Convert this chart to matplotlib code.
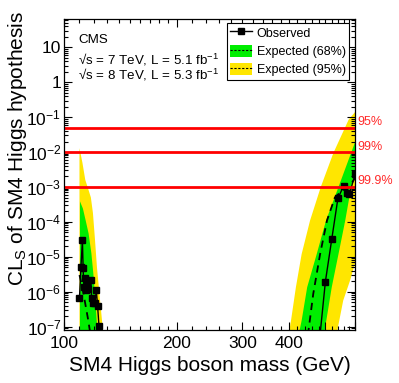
import numpy as np
import matplotlib
matplotlib.use('Agg')
from matplotlib import pyplot
from matplotlib.lines import Line2D
from matplotlib.patches import Patch
from matplotlib.ticker import FixedLocator, FuncFormatter, NullFormatter

pyplot.rcParams['font.family'] = ['Liberation Sans', 'DejaVu Sans']
pyplot.rcParams['mathtext.fontset'] = 'custom'
pyplot.rcParams['mathtext.rm'] = 'Liberation Sans'
pyplot.rcParams['mathtext.it'] = 'Liberation Sans:italic'
pyplot.rcParams['mathtext.bf'] = 'Liberation Sans:bold'

# low mass region (110 - 130 GeV)
lm_mass = [110, 112, 114, 116, 118, 119.5, 121, 122.5, 125, 127.5, 130]
lm_yellow_hi = [1.3e-2, 5e-3, 1.6e-3, 9e-4, 5e-4, 1.8e-4, 3.2e-5, 5e-6, 5e-7, 5.6e-8, 6e-9]
lm_green_hi = [4e-4, 2.5e-4, 1.1e-4, 4.8e-5, 1.3e-5, 3.2e-6, 5.6e-7, 7e-8, 3e-9, 3e-10, 3e-11]
lm_green_lo = [1e-9, 5e-10, 2e-10, 1e-10, 5e-11, 3e-11, 2e-11, 1e-11, 5e-12, 2e-12, 1e-12]
lm_yellow_lo = [1e-10, 5e-11, 2e-11, 1e-11, 5e-12, 3e-12, 2e-12, 1e-12, 5e-13, 2e-13, 1e-13]

lm_exp_mass = [110, 112, 114, 116, 118, 120, 122]
lm_exp = [3e-6, 1.3e-6, 4.5e-7, 1.6e-7, 5e-8, 1.3e-8, 3e-9]

lm_obs_mass = [110, 111, 112, 112.5, 113, 114, 114.5, 115, 116, 118, 118.5, 119.5, 121, 122, 123, 124]
lm_obs = [6.8e-7, 5.1e-6, 3e-5, 4.7e-6, 1.4e-6, 2.4e-6, 1.1e-6, 1.7e-6, 1.2e-6, 2.2e-6,
          6.8e-7, 4.9e-7, 4.6e-7, 1.15e-6, 3.8e-7, 1.07e-7]

# high mass region (400 - 600 GeV)
hm_yellow_hi_mass = [395, 400, 405, 417, 432, 455, 486, 525, 577, 600]
hm_yellow_hi = [2.5e-8, 6.9e-8, 1.6e-7, 1.35e-6, 1.2e-5, 1.1e-4, 1.0e-3, 9.3e-3, 8.5e-2, 0.14]
hm_yellow_lo_mass = [600, 582, 558, 537, 525]
hm_yellow_lo = [6.3e-6, 2.1e-6, 5.6e-7, 6.9e-8, 1.6e-8]

hm_green_hi_mass = [420, 425.5, 432, 447, 474, 502, 542, 600]
hm_green_hi = [2.5e-8, 6.9e-8, 1.5e-7, 1.35e-6, 1.2e-5, 1.1e-4, 1.0e-3, 1.9e-2]
hm_green_lo_mass = [600, 586, 565, 542, 520, 497, 490]
hm_green_lo = [3.1e-3, 1.0e-3, 1.1e-4, 1.2e-5, 1.35e-6, 6.9e-8, 2.5e-8]

hm_exp_mass = [445, 450, 464, 484, 505, 530, 555, 575, 600]
hm_exp = [2.5e-8, 6.9e-8, 8.7e-7, 1.2e-5, 1.1e-4, 5e-4, 8e-4, 9e-4, 1.8e-3]

hm_obs_mass = [480, 500, 520, 540, 560, 570, 580, 600]
hm_obs = [2.5e-8, 1.95e-6, 3.2e-5, 4.7e-4, 1.1e-3, 6.9e-4, 6.3e-4, 2.3e-3]

cl_values = [0.05, 0.01, 0.001]
cl_labels = ['95%', '99%', '99.9%']

xticks = [100, 200, 300, 400, 500, 600]
xticklabels = ['100', '200', '300', '400', '', '']
yticks = [1e-7, 1e-6, 1e-5, 1e-4, 1e-3, 1e-2, 1e-1, 1, 10]
yticklabels = ['$10^{-7}$', '$10^{-6}$', '$10^{-5}$', '$10^{-4}$', '$10^{-3}$',
               '$10^{-2}$', '$10^{-1}$', '1', '10']

green = '#00ee00'
yellow = '#ffe600'

fig = pyplot.figure(figsize=(3.99, 3.83), dpi=100)
ax = fig.add_axes([64/399., 1 - 330/383., 291/399., 311/383.])
ax.set_xscale('log')
ax.set_yscale('log')

ax.fill_between(lm_mass, lm_yellow_lo, lm_yellow_hi, color=yellow, lw=0)
ax.fill_between(lm_mass, lm_green_lo, lm_green_hi, color=green, lw=0)
ax.fill(hm_yellow_hi_mass + hm_yellow_lo_mass, hm_yellow_hi + hm_yellow_lo, color=yellow, lw=0)
ax.fill(hm_green_hi_mass + hm_green_lo_mass, hm_green_hi + hm_green_lo, color=green, lw=0)

for m, v in [(lm_exp_mass, lm_exp), (hm_exp_mass, hm_exp)]:
    ax.plot(m, v, color='k', ls=(0, (4, 3)), lw=1.3)
for m, v in [(lm_obs_mass, lm_obs), (hm_obs_mass, hm_obs)]:
    ax.plot(m, v, color='k', lw=1, marker='s', ms=4.2)

for v, lab in zip(cl_values, cl_labels):
    ax.axhline(v, color='#ff0000', lw=2)
    ax.annotate(lab, xy=(1, v), xycoords=('axes fraction', 'data'), xytext=(1.5, 4),
                textcoords='offset points', va='center', ha='left', color='#ff2a2a',
                fontsize=9, annotation_clip=False)

ax.set_xlim(100, 600)
ax.set_ylim(8e-8, 65)

ax.set_xticks(xticks)
ax.set_xticklabels(xticklabels)
ax.xaxis.set_minor_locator(FixedLocator(list(range(110, 200, 10)) + list(range(220, 600, 20))))
ax.xaxis.set_minor_formatter(NullFormatter())

ax.set_yticks(yticks)
ax.set_yticklabels(yticklabels)
ax.yaxis.set_minor_locator(FixedLocator([s * 10.0 ** e for e in range(-8, 2) for s in range(2, 10)
                                         if 8e-8 < s * 10.0 ** e < 65]))
ax.yaxis.set_minor_formatter(NullFormatter())

ax.tick_params(which='both', direction='in', top=True, right=True, labelsize=12.5, width=0.8)
ax.tick_params(which='major', length=6)
ax.tick_params(which='minor', length=3)
ax.tick_params(axis='x', pad=4)
ax.tick_params(axis='y', pad=2)
for s in ax.spines.values():
    s.set_linewidth(0.9)

ax.set_xlabel('SM4 Higgs boson mass (GeV)', fontsize=15)
ax.xaxis.set_label_coords(0.5, -0.085, transform=ax.transAxes)
ax.set_ylabel('CL$_\\mathrm{S}$ of SM4 Higgs hypothesis', fontsize=15, loc='top')
ax.yaxis.set_label_coords(-0.12, 1.025)

ax.text(0.048, 0.932, 'CMS', transform=ax.transAxes, fontsize=9.6, va='center')
ax.text(0.048, 0.868, '\u221as = 7 TeV, L = 5.1 fb$^{-1}$', transform=ax.transAxes, fontsize=9.6, va='center')
ax.text(0.048, 0.820, '\u221as = 8 TeV, L = 5.3 fb$^{-1}$', transform=ax.transAxes, fontsize=9.6, va='center')

obs_h = Line2D([], [], color='k', lw=1, marker='s', ms=4.2)
dash_h = Line2D([], [], color='k', ls=(0, (2, 1.5)), lw=0.8)
h68 = (Patch(facecolor=green, edgecolor='none'), dash_h)
h95 = (Patch(facecolor=yellow, edgecolor='none'), dash_h)
leg = ax.legend([obs_h, h68, h95], ['Observed', 'Expected (68%)', 'Expected (95%)'],
                loc='upper right', bbox_to_anchor=(0.979, 0.987), borderaxespad=0,
                fancybox=False, framealpha=1, edgecolor='k', fontsize=9,
                handlelength=1.75, handleheight=1.15, handletextpad=0.4,
                labelspacing=0.4, borderpad=0.25)
leg.get_frame().set_linewidth(0.8)

fig.savefig('out.png', dpi=100)
